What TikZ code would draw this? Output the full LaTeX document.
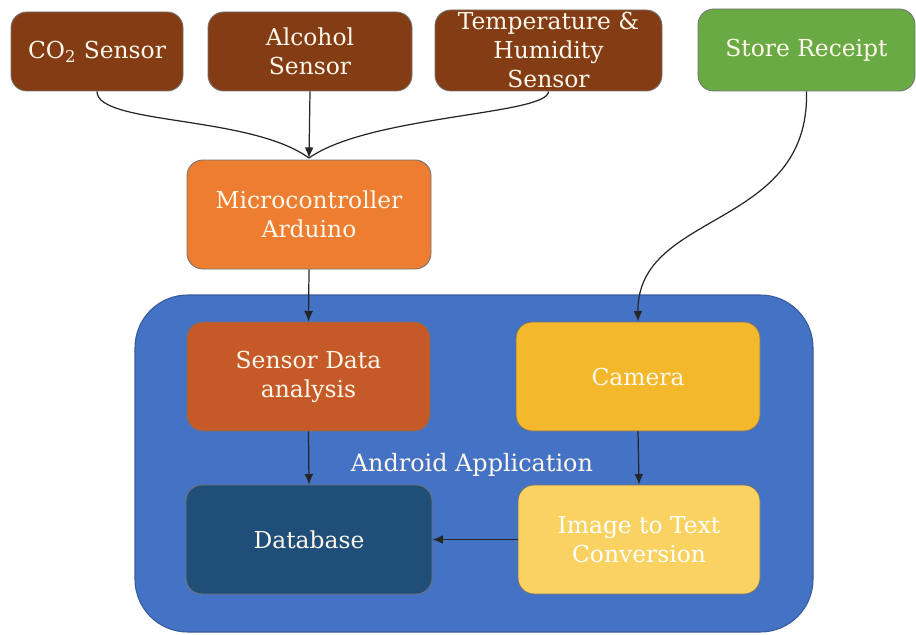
\documentclass[tikz,border=0pt]{standalone}
\usepackage{fontspec}
\setmainfont{DejaVu Serif}
\usetikzlibrary{arrows.meta}
\definecolor{brownbox}{HTML}{843C14}
\definecolor{greenbox}{HTML}{6AAA45}
\definecolor{orangebox}{HTML}{ED7D31}
\definecolor{bluebg}{HTML}{4472C4}
\definecolor{rustbox}{HTML}{C55A28}
\definecolor{camerabox}{HTML}{F3B82C}
\definecolor{dbbox}{HTML}{1F4E79}
\definecolor{imgbox}{HTML}{F9D262}
\definecolor{cream}{HTML}{FFF8EC}
\tikzset{
  x=0.02cm, y=-0.02cm,
  box/.style={rounded corners=9pt, draw=black!55, line width=0.5pt, text=cream,
    font=\fontsize{13.3}{16.5}\selectfont, align=center, inner sep=0pt},
  conn/.style={line width=0.7pt, draw=black!85},
  arr/.style={conn, -{Latex[length=6pt,width=5pt]}},
}
\begin{document}
\begin{tikzpicture}
\useasboundingbox (0,0) rectangle (916,635);
% background container
\node[fill=bluebg, draw=bluebg!80!black, line width=0.6pt, rounded corners=30pt,
  minimum width=678*0.02cm, minimum height=337*0.02cm, inner sep=0pt] (app) at (474,463.5) {};
\node[text=cream, font=\fontsize{13.6}{16}\selectfont] (applabel) at (472,465) {Android Application};
% top sensors
\node[box, fill=brownbox, minimum width=172*0.02cm, minimum height=79*0.02cm] (co2) at (97,51.5) {CO\textsubscript{2} Sensor};
\node[box, fill=brownbox, minimum width=204*0.02cm, minimum height=79*0.02cm] (alc) at (310,51.5) {Alcohol\\Sensor};
\node[box, fill=brownbox, minimum width=227*0.02cm, minimum height=81*0.02cm] (temp) at (548.5,50.5) {};
\node[text=cream, font=\fontsize{13.3}{16.4}\selectfont, align=center, inner sep=0pt] (templabel) at (548.5,50) {Temperature \&\\Humidity\\Sensor};
\node[box, fill=greenbox, minimum width=217*0.02cm, minimum height=82*0.02cm] (store) at (806.5,50) {Store Receipt};
% microcontroller
\node[box, fill=orangebox, minimum width=244*0.02cm, minimum height=109*0.02cm] (mcu) at (309,214.5) {Microcontroller\\Arduino};
% inside app
\node[box, fill=rustbox, minimum width=243*0.02cm, minimum height=109*0.02cm] (sda) at (308.5,376.5) {Sensor Data\\analysis};
\node[box, fill=camerabox, minimum width=244*0.02cm, minimum height=109*0.02cm] (cam) at (638,376.5) {Camera};
\node[box, fill=dbbox, minimum width=246*0.02cm, minimum height=109*0.02cm] (db) at (309,539.5) {Database};
\node[box, fill=imgbox, text=white, minimum width=242*0.02cm, minimum height=109*0.02cm] (img) at (639,539.5) {Image to Text\\Conversion};
% connectors
\coordinate (j) at (309,158);
\draw[conn] (co2.south) .. controls (97,125) and (250,115) .. (j);
\draw[conn] (temp.south) .. controls (548,115) and (370,115) .. (j);
\draw[arr] (alc.south) -- (j);
\draw[arr] (mcu.south) -- (sda.north);
\draw[arr] (sda.south) -- (db.north);
\draw[arr] (store.south) .. controls (810,230) and (637,210) .. (cam.north);
\draw[arr] (cam.south) -- (img.north);
\draw[arr] (img.west) -- (db.east);
\end{tikzpicture}
\end{document}
